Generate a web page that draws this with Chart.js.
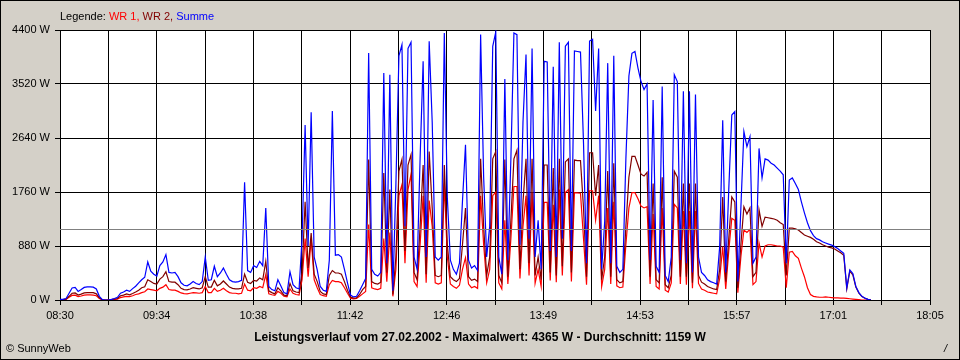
<!DOCTYPE html>
<html><head><meta charset="utf-8">
<script src="https://cdn.jsdelivr.net/npm/chart.js@4/dist/chart.umd.min.js"></script>
<style>
html,body{margin:0;padding:0;background:#d4d0c8;}
#wrap{position:relative;width:960px;height:360px;background:#d4d0c8;overflow:hidden;font-family:"Liberation Sans",Arial,sans-serif;font-size:11px;color:#000;}
canvas{position:absolute;left:0;top:0;}
#frame{position:absolute;left:0;top:0;width:960px;height:360px;box-sizing:border-box;border:1px solid #000;pointer-events:none;}
.t{position:absolute;white-space:nowrap;line-height:13px;}
</style></head><body>
<div id="wrap">
<canvas id="c" width="960" height="360"></canvas>
<div class="t" id="legend" style="left:60px;top:10px;"></div>
<div class="t" id="title" style="left:0;width:960px;text-align:center;top:331px;font-weight:bold;font-size:12px;"></div>
<div class="t" id="copy" style="left:6px;top:342px;"></div>
<div class="t" style="left:944px;top:342px;font-style:italic;">/</div>
<div id="frame"></div>
</div>
<script>
// ---- data ----
const startTime = '08:30';
const intervalMin = 2;           // one sample every 2 minutes, starting at 08:30
const axisSpanMin = 575;         // 08:30 .. 18:05
const xTickLabels = ['08:30','09:34','10:38','11:42','12:46','13:49','14:53','15:57','17:01','18:05'];
const yTickValues = [0, 880, 1760, 2640, 3520, 4400];
const seriesNames = ['WR 1', 'WR 2', 'Summe'];
const averageW = 1159;
const maxW = 4365;
const dateLabel = '27.02.2002';

const wr1 = [
5,5,10,45,75,80,55,65,80,85,
85,80,70,25,2,0,0,5,10,15,
40,50,60,55,70,90,100,120,135,180,
170,160,150,190,210,250,170,160,160,140,
115,105,100,110,120,115,110,120,220,120,
120,190,140,160,190,150,120,110,110,100,
110,260,160,150,200,190,220,200,413,100,
85,75,140,110,60,50,180,110,90,80,
330,1000,380,1000,330,200,90,70,60,250,
320,300,300,280,200,110,30,20,25,60,
100,140,1230,200,180,170,190,1000,300,1100,
60,500,1700,1880,600,1800,2050,300,220,900,
1700,280,1620,1200,280,260,280,1900,700,260,
220,190,240,500,690,260,200,220,190,1700,
900,280,500,1700,1760,280,180,1300,260,1000,
1850,1850,350,1200,1700,400,1750,270,500,220,
1590,1590,320,1550,290,1800,400,1750,1800,300,
1750,1745,1740,1000,250,1780,1780,1300,1700,220,
500,1500,260,1600,230,200,210,900,1500,1750,
1750,1650,1530,1500,1520,260,1400,220,180,1500,
160,130,280,1560,1500,260,1450,250,1450,190,
1450,270,180,160,130,120,110,100,350,870,
180,800,1330,1300,120,700,1140,1100,1150,250,
300,930,700,880,900,900,890,880,880,860,
200,780,790,720,680,520,380,200,90,60,
50,45,45,50,45,40,35,35,30,30,
25,20,15,10,5,0,0,0,0
];
const wr2 = [
5,5,15,60,110,115,80,95,115,120,
120,120,100,35,3,0,0,5,15,25,
70,80,100,85,105,130,160,200,215,330,
300,270,260,340,380,460,300,290,290,250,
190,170,165,180,200,190,180,200,380,210,
210,320,230,260,310,260,210,190,180,180,
190,420,290,270,320,310,360,330,630,150,
120,100,200,150,80,70,270,150,130,120,
450,1600,520,1090,420,300,140,100,90,400,
480,440,440,420,300,160,50,30,35,90,
170,220,2290,300,270,260,290,2070,450,1800,
90,700,2100,2290,800,2200,2370,450,330,1200,
2200,420,2420,1500,400,380,400,2200,900,380,
330,300,350,900,1500,380,320,340,300,2300,
1200,400,700,2300,2420,400,280,2290,380,1300,
2300,2440,500,1600,2300,600,2300,400,700,330,
2200,2200,450,2150,400,2300,550,2250,2300,450,
2280,2270,2270,1500,380,2400,2400,1700,2200,330,
700,2100,380,2230,330,280,300,1200,2000,2340,
2340,2200,2050,2020,2080,380,1900,330,280,2000,
250,200,400,2100,2000,380,1900,380,1900,280,
1900,400,290,260,220,200,180,170,500,1680,
300,1000,1680,1600,200,900,1520,1400,1500,380,
450,1470,1200,1350,1340,1330,1320,1300,1260,1230,
400,1170,1170,1160,1140,1100,1060,1040,1020,990,
950,930,900,880,860,850,830,800,770,730,
180,470,410,210,110,55,28,10,0
];
const summe = [
10,10,25,110,195,205,140,170,205,215,
215,210,180,60,5,0,0,10,25,45,
110,130,160,140,185,225,280,330,370,620,
470,420,390,560,620,740,450,440,450,380,
280,240,230,260,300,270,250,300,700,320,
330,550,380,440,520,420,330,300,290,300,
320,1920,480,450,560,530,630,560,1500,220,
170,150,330,230,120,100,460,250,200,180,
1000,2850,880,3060,700,490,220,160,140,650,
3080,730,740,700,500,280,80,50,60,150,
250,350,4025,500,420,390,450,3700,600,3670,
150,1880,3980,4160,1200,4100,4200,700,500,2310,
3890,700,4215,2900,700,650,700,4350,1660,650,
500,420,600,1610,2530,650,520,560,480,4325,
2000,700,1200,4135,4365,700,420,3600,650,2300,
4350,4325,900,2900,4000,1000,4100,700,1300,500,
3890,3880,800,3800,700,4200,1000,4135,4200,800,
4060,4050,4040,2560,600,4220,4250,3080,4100,500,
1280,3860,600,3980,550,450,500,2300,3650,4020,
4050,3780,3560,3430,3520,650,3260,550,450,3480,
400,300,700,3670,3560,650,3400,600,3400,450,
3350,700,450,400,330,300,280,260,870,2930,
450,1800,3015,3070,300,1500,2745,2500,2660,600,
700,2470,1990,2300,2280,2230,2200,2150,2100,2040,
600,1956,1990,1900,1800,1600,1420,1260,1130,1050,
1000,980,950,930,910,895,870,840,800,760,
200,490,430,220,120,60,30,10,0
];

// ---- styles ----
const seriesColors = ['#ff0000', '#800000', '#0000ff'];
const FONT = '"Liberation Sans", Arial, sans-serif';

// ---- texts ----
document.getElementById('legend').innerHTML = 'Legende: ' +
  seriesNames.map((n, i) => '<span style="color:' + seriesColors[i] + '">' + n + (i < seriesNames.length - 1 ? ',' : '') + '</span>').join(' ');
document.getElementById('title').textContent =
  'Leistungsverlauf vom ' + dateLabel + ' - Maximalwert: ' + maxW + ' W - Durchschnitt: ' + averageW + ' W';
document.getElementById('copy').textContent = '\u00A9 SunnyWeb';

const toPoints = arr => arr.map((v, i) => ({ x: i * intervalMin, y: v }));

const plotBg = {
  id: 'plotBg',
  beforeDraw(chart) {
    const a = chart.chartArea, ctx = chart.ctx;
    ctx.save(); ctx.fillStyle = '#ffffff';
    ctx.fillRect(a.left, a.top, a.right - a.left, a.bottom - a.top);
    ctx.restore();
  }
};
const avgLine = {
  id: 'avgLine',
  afterDatasetsDraw(chart) {
    const a = chart.chartArea, ctx = chart.ctx;
    const y = Math.round(chart.scales.y.getPixelForValue(averageW)) + 0.5;
    ctx.save(); ctx.strokeStyle = '#808080'; ctx.lineWidth = 1;
    ctx.beginPath(); ctx.moveTo(a.left, y); ctx.lineTo(a.right, y); ctx.stroke();
    ctx.restore();
  }
};

const mk = (idx, data, order) => ({
  label: seriesNames[idx], data: toPoints(data), borderColor: seriesColors[idx],
  backgroundColor: seriesColors[idx], borderWidth: 1.2, pointRadius: 0, tension: 0,
  fill: false, order: order
});

new Chart(document.getElementById('c'), {
  type: 'line',
  data: { datasets: [mk(0, wr1, 3), mk(1, wr2, 2), mk(2, summe, 1)] },
  plugins: [plotBg, avgLine],
  options: {
    responsive: false, animation: false, devicePixelRatio: 1,
    layout: { padding: { left: 0, top: 30, right: 30, bottom: 0 } },
    plugins: { legend: { display: false }, tooltip: { enabled: false }, title: { display: false } },
    scales: {
      x: {
        type: 'linear', min: 0, max: axisSpanMin,
        afterBuildTicks: s => { s.ticks = Array.from({ length: 19 }, (_, i) => ({ value: i * axisSpanMin / 18 })); },
        afterFit: s => { s.height = 60; },
        ticks: {
          autoSkip: false, maxRotation: 0, padding: 4, color: '#000',
          font: { family: FONT, size: 11 },
          callback: (v, i) => (i % 2 === 0 ? xTickLabels[i / 2] : '')
        },
        grid: { color: '#000', lineWidth: 1, tickLength: 5, tickColor: '#000' },
        border: { color: '#000', width: 1 }
      },
      y: {
        min: 0, max: 4400,
        afterBuildTicks: s => { s.ticks = yTickValues.map(v => ({ value: v })); },
        afterFit: s => { s.width = 60; },
        ticks: { padding: 5, color: '#000', font: { family: FONT, size: 11 }, callback: v => v + ' W' },
        grid: { color: '#000', lineWidth: 1, tickLength: 5, tickColor: '#000' },
        border: { color: '#000', width: 1 }
      }
    }
  }
});
</script>
</body></html>
